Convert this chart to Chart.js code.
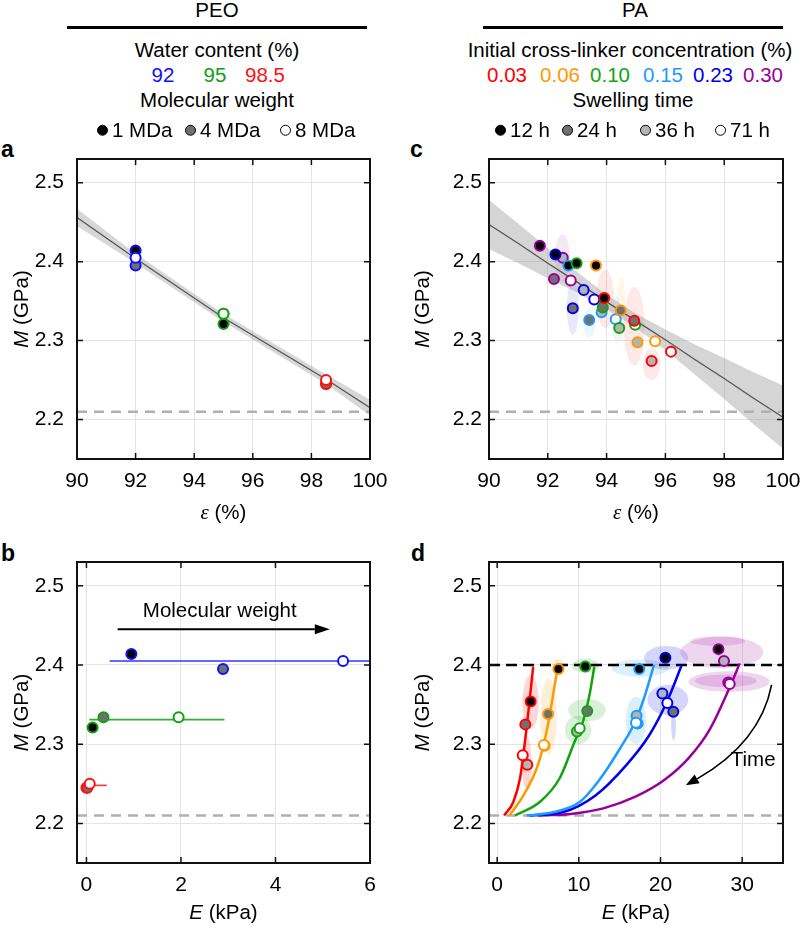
<!DOCTYPE html>
<html>
<head>
<meta charset="utf-8">
<script src="https://cdn.jsdelivr.net/npm/chart.js@4.4.0/dist/chart.umd.min.js"></script>
<style>
  body { margin: 0; width: 800px; height: 925px; overflow: hidden; background: #fff; position: relative;
         font-family: "Liberation Sans", Arial, sans-serif; color: #000; }
  .t { position: absolute; transform: translate(-50%, -50%); white-space: nowrap; font-size: 20.5px; line-height: 1; }
  .rule { position: absolute; height: 3px; background: #000; }
  .lab { position: absolute; font-weight: bold; font-size: 23px; line-height: 1; }
  .key { position: absolute; display: flex; align-items: center; transform: translateY(-50%); font-size: 20.5px; line-height: 1; white-space: nowrap; }
  .dot { width: 9px; height: 9px; border: 1px solid #000; border-radius: 50%; margin-right: 4px; }
  canvas { position: absolute; }
</style>
</head>
<body>

<div class="t" style="left:217px;top:10px">PEO</div>
<div class="rule" style="left:67px;top:26px;width:300px"></div>
<div class="t" style="left:217px;top:50px">Water content (%)</div>
<div class="t" style="left:217px;top:100px">Molecular weight</div>

<div class="t" style="left:635px;top:10px">PA</div>
<div class="rule" style="left:483px;top:26px;width:300px"></div>
<div class="t" style="left:630px;top:50px">Initial cross-linker concentration (%)</div>
<div class="t" style="left:633px;top:100px">Swelling time</div>

<div class="lab" style="left:1px;top:138px">a</div>
<div class="lab" style="left:410px;top:138px">c</div>
<div class="lab" style="left:1px;top:542px">b</div>
<div class="lab" style="left:411px;top:542px">d</div>

<canvas id="chartA"></canvas>
<canvas id="chartB"></canvas>
<canvas id="chartC"></canvas>
<canvas id="chartD"></canvas>

<script>
// ---- axis ticks ----
const yTicks = [2.2, 2.3, 2.4, 2.5];
const epsTicks = [90, 92, 94, 96, 98, 100];
const ePeoTicks = [0, 2, 4, 6];
const ePaTicks = [0, 10, 20, 30];
const baseM = 2.21;     // grey dashed reference
const plateauM = 2.4;   // black dashed line in d

// ---- PEO (panels a, b) : 1 / 4 / 8 MDa ----
const mwLabels = ['1 MDa', '4 MDa', '8 MDa'];
const mwFills = ['#000000', '#707070', '#ffffff'];
const peoWater = [92, 95, 98.5];
const peoColors = ['#1010ff', '#10a010', '#ff1010'];
const peoM92 = [2.414, 2.395, 2.405];
const peoM95 = [2.321, 2.334, 2.334];
const peoM985 = [2.245, 2.245, 2.250];
const peoE92 = [0.95, 2.89, 5.43];
const peoE95 = [0.13, 0.36, 1.95];
const peoE985 = [0.0, 0.02, 0.07];
// horizontal lines in b
const peoLineM = [2.405, 2.331, 2.248];
const peoLineFrom = [0.49, 0.06, 0.0];
const peoLineTo = [6.0, 2.92, 0.43];

// fit and confidence band in a
const fitAEps = [90, 92, 95, 98.5, 100];
const fitAM = [2.456, 2.404, 2.329, 2.251, 2.215];
const fitAHi = [2.467, 2.410, 2.334, 2.257, 2.225];
const fitALo = [2.445, 2.398, 2.324, 2.245, 2.205];

// ---- PA (panels c, d) : 12 / 24 / 36 / 71 h ----
const timeLabels = ['12 h', '24 h', '36 h', '71 h'];
const timeFills = ['#000000', '#707070', '#b4b4b4', '#ffffff'];
const paConc = ['0.03', '0.06', '0.10', '0.15', '0.23', '0.30'];
const paColors = ['#ff0000', '#ff9900', '#10a510', '#1e9bff', '#0000ee', '#990099'];

const paEps003 = [93.92, 94.94, 95.53, 96.19];
const paM003 = [2.354, 2.325, 2.274, 2.286];
const paE003 = [4.1, 3.45, 3.69, 3.13];
const paEps006 = [93.64, 94.48, 95.05, 95.65];
const paM006 = [2.395, 2.338, 2.298, 2.299];
const paE006 = [7.5, 6.24, 5.8, 5.72];
const paEps010 = [92.98, 93.87, 94.43, 94.97];
const paM010 = [2.398, 2.342, 2.316, 2.320];
const paE010 = [10.79, 11.03, 9.77, 10.1];
const paEps015 = [92.70, 93.41, 93.83, 94.31];
const paM015 = [2.395, 2.326, 2.336, 2.327];
const paE015 = [17.4, 17.2, 17.07, 17.0];
const paEps023 = [92.26, 92.85, 93.22, 93.58];
const paM023 = [2.409, 2.341, 2.364, 2.352];
const paE023 = [20.6, 21.57, 20.23, 20.84];
const paEps030 = [91.73, 92.21, 92.51, 92.78];
const paM030 = [2.420, 2.378, 2.405, 2.376];
const paE030 = [27.1, 28.3, 27.77, 28.47];

// fit and confidence band in c
const fitCEps = [90, 91, 92, 93, 94, 95, 96, 97, 98, 99, 100];
const fitCM = [2.447, 2.423, 2.398, 2.374, 2.349, 2.325, 2.301, 2.276, 2.252, 2.227, 2.203];
const fitCHi = [2.478, 2.448, 2.417, 2.387, 2.358, 2.334, 2.314, 2.295, 2.278, 2.260, 2.243];
const fitCLo = [2.416, 2.398, 2.379, 2.361, 2.340, 2.316, 2.288, 2.257, 2.226, 2.194, 2.163];

// model curves in d
const curve003E = [0.85, 1.98, 2.8, 3.2, 3.6, 4.0, 4.41];
const curve003M = [2.21, 2.227, 2.257, 2.286, 2.32, 2.358, 2.398];
const curve006E = [1.5, 3.2, 4.82, 5.71, 6.44, 7.05, 7.45];
const curve006M = [2.21, 2.235, 2.269, 2.30, 2.337, 2.375, 2.398];
const curve010E = [2.19, 5.22, 7.65, 9.48, 10.49, 11.3, 11.9];
const curve010M = [2.21, 2.227, 2.257, 2.303, 2.328, 2.362, 2.398];
const curve015E = [3.6, 6.84, 10.1, 12.3, 14.95, 16.97, 17.98, 19.2];
const curve015M = [2.21, 2.214, 2.227, 2.252, 2.293, 2.330, 2.358, 2.40];
const curve023E = [4.0, 8.0, 12.0, 15.76, 18.6, 20.8, 22.6];
const curve023M = [2.21, 2.214, 2.235, 2.273, 2.311, 2.354, 2.40];
const curve030E = [5.0, 9.0, 13.0, 17.0, 20.5, 23.5, 26.0, 28.4, 29.7];
const curve030M = [2.21, 2.212, 2.219, 2.234, 2.255, 2.283, 2.318, 2.37, 2.402];

// error ellipses: [x, M, half-width x, half-height M, colour index]
const ellipsesC = [
  [92.5, 2.405, 0.25, 0.03, 5], [92.85, 2.342, 0.2, 0.035, 4], [93.41, 2.322, 0.2, 0.018, 3],
  [93.95, 2.353, 0.3, 0.037, 0], [94.34, 2.326, 0.15, 0.03, 3], [94.5, 2.339, 0.15, 0.042, 1],
  [94.94, 2.318, 0.35, 0.05, 0], [95.53, 2.27, 0.3, 0.02, 0]
];
const ellipsesD = [
  [4.1, 2.353, 1.0, 0.034, 0], [3.6, 2.277, 0.6, 0.033, 0],
  [6.3, 2.335, 1.0, 0.048, 1], [7.5, 2.398, 0.8, 0.01, 1],
  [11.0, 2.343, 2.3, 0.014, 2], [9.9, 2.318, 1.6, 0.018, 2], [10.8, 2.399, 1.7, 0.009, 2],
  [17.5, 2.396, 3.5, 0.011, 3], [17.0, 2.33, 1.25, 0.03, 3],
  [20.7, 2.409, 2.7, 0.015, 4], [20.9, 2.356, 2.5, 0.019, 4], [21.6, 2.325, 0.3, 0.02, 4],
  [27.5, 2.416, 5.1, 0.02, 5], [27.0, 2.43, 3.4, 0.006, 5], [28.4, 2.379, 5.0, 0.013, 5], [28.0, 2.38, 3.8, 0.008, 5]
];

const SANS = '"Liberation Sans", Arial, sans-serif';
Chart.defaults.font.family = SANS;
Chart.defaults.color = '#000';

// header legend rows (colored numbers + marker keys)
function addText(txt, left, top, color) {
  const d = document.createElement('div');
  d.className = 't';
  d.style.left = left + 'px'; d.style.top = top + 'px'; d.style.color = color;
  d.textContent = txt;
  document.body.appendChild(d);
}
function addKey(txt, left, top, fill) {
  const d = document.createElement('div');
  d.className = 'key';
  d.style.left = left + 'px'; d.style.top = top + 'px';
  d.innerHTML = '<span class="dot" style="background:' + fill + '"></span>' + txt;
  document.body.appendChild(d);
}
const peoNumX = [163, 215, 265];
peoWater.forEach((w, i) => addText(String(w), peoNumX[i], 75, peoColors[i]));
const paNumX = [507, 560, 610, 663, 713, 763];
paConc.forEach((c, i) => addText(c, paNumX[i], 75, paColors[i]));
const mwKeyX = [97, 185, 280];
mwLabels.forEach((l, i) => addKey(l, mwKeyX[i], 130, mwFills[i]));
const timeKeyX = [495, 562, 640, 715];
timeLabels.forEach((l, i) => addKey(l, timeKeyX[i], 130, timeFills[i]));

function rgba(hex, a) {
  const n = parseInt(hex.slice(1), 16);
  return 'rgba(' + (n >> 16) + ',' + ((n >> 8) & 255) + ',' + (n & 255) + ',' + a + ')';
}
function pts(xs, ys) { return xs.map((v, i) => ({ x: v, y: ys[i] })); }

// ---- plugins ----
const frame = {
  id: 'frame',
  afterDatasetsDraw(chart) {
    const { ctx, chartArea: a, scales: { x, y } } = chart;
    ctx.save();
    ctx.strokeStyle = '#111';
    ctx.lineWidth = 1.5;
    ctx.beginPath();
    x.ticks.forEach(t => {
      const p = x.getPixelForValue(t.value);
      if (p > a.left + 2 && p < a.right - 2) {
        ctx.moveTo(p, a.top); ctx.lineTo(p, a.top + 6);
        ctx.moveTo(p, a.bottom); ctx.lineTo(p, a.bottom - 6);
      }
    });
    y.ticks.forEach(t => {
      const p = y.getPixelForValue(t.value);
      ctx.moveTo(a.left, p); ctx.lineTo(a.left + 6, p);
      ctx.moveTo(a.right, p); ctx.lineTo(a.right - 6, p);
    });
    ctx.stroke();
    ctx.lineWidth = 2;
    ctx.strokeRect(a.left, a.top, a.right - a.left, a.bottom - a.top);
    ctx.restore();
  }
};

const ellipses = {
  id: 'ellipses',
  beforeDatasetsDraw(chart, args, opts) {
    if (!opts.items) return;
    const { ctx, chartArea: a, scales: { x, y } } = chart;
    ctx.save();
    ctx.beginPath(); ctx.rect(a.left, a.top, a.right - a.left, a.bottom - a.top); ctx.clip();
    opts.items.forEach(e => {
      const cx = x.getPixelForValue(e[0]), cy = y.getPixelForValue(e[1]);
      const rx = Math.abs(x.getPixelForValue(e[0] + e[2]) - cx);
      const ry = Math.abs(y.getPixelForValue(e[1] + e[3]) - cy);
      ctx.fillStyle = rgba(paColors[e[4]], opts.alpha);
      ctx.beginPath(); ctx.ellipse(cx, cy, rx, ry, 0, 0, Math.PI * 2); ctx.fill();
    });
    ctx.restore();
  }
};

const notes = {
  id: 'notes',
  afterDatasetsDraw(chart, args, opts) {
    const { ctx, scales: { x, y } } = chart;
    ctx.save();
    (opts.texts || []).forEach(t => {
      ctx.font = '20.5px ' + SANS;
      ctx.fillStyle = '#000'; ctx.textAlign = 'center'; ctx.textBaseline = 'middle';
      ctx.fillText(t.text, x.getPixelForValue(t.x), y.getPixelForValue(t.y));
    });
    (opts.arrows || []).forEach(ar => {
      const p = ar.pts.map(q => [x.getPixelForValue(q[0]), y.getPixelForValue(q[1])]);
      const s = p[0], e = p[p.length - 1];
      // control point so the curve passes through the middle point
      const c = p.length === 3
        ? [2 * p[1][0] - (s[0] + e[0]) / 2, 2 * p[1][1] - (s[1] + e[1]) / 2]
        : [(s[0] + e[0]) / 2, (s[1] + e[1]) / 2];
      let dx = e[0] - c[0], dy = e[1] - c[1];
      const L = Math.hypot(dx, dy); dx /= L; dy /= L;
      const bx = e[0] - dx * ar.head, by = e[1] - dy * ar.head;
      ctx.strokeStyle = '#000'; ctx.lineWidth = ar.width;
      ctx.beginPath(); ctx.moveTo(s[0], s[1]);
      ctx.quadraticCurveTo(c[0], c[1], bx, by);
      ctx.stroke();
      ctx.fillStyle = '#000';
      ctx.beginPath();
      ctx.moveTo(e[0], e[1]);
      ctx.lineTo(bx - dy * ar.wing, by + dx * ar.wing);
      ctx.lineTo(bx + dy * ar.wing, by - dx * ar.wing);
      ctx.closePath(); ctx.fill();
    });
    ctx.restore();
  }
};

function drawRich(ctx, parts, cx, cy, rot) {
  ctx.save();
  ctx.translate(cx, cy); ctx.rotate(rot);
  ctx.textBaseline = 'middle'; ctx.textAlign = 'left'; ctx.fillStyle = '#000';
  let w = 0;
  parts.forEach(p => { ctx.font = p[1]; w += ctx.measureText(p[0]).width; });
  let x0 = -w / 2;
  parts.forEach(p => { ctx.font = p[1]; ctx.fillText(p[0], x0, 0); x0 += ctx.measureText(p[0]).width; });
  ctx.restore();
}
const axisTitles = {
  id: 'axisTitles',
  afterDraw(chart, args, o) {
    const { ctx, chartArea: a } = chart;
    drawRich(ctx, o.x, (a.left + a.right) / 2, a.bottom + o.xOff, 0);
    drawRich(ctx, o.y, a.left - o.yOff, (a.top + a.bottom) / 2, -Math.PI / 2);
  }
};

const REG = '20.5px ' + SANS, ITA = 'italic 20.5px ' + SANS;
const titleEps = [['\u03b5', 'italic 21px "Liberation Serif", "DejaVu Serif", serif'], [' (%)', REG]];
const titleE = [['E', ITA], [' (kPa)', REG]];
const titleM = [['M', ITA], [' (GPa)', REG]];

function makeChart(id, box, xMin, xMax, xTicks, datasets, extra) {
  const cv = document.getElementById(id);
  cv.width = 77 + box.w + box.padR;
  cv.height = 19 + box.h + box.axisH;
  cv.style.left = (box.left - 77) + 'px';
  cv.style.top = (box.top - 19) + 'px';
  return new Chart(cv, {
    type: 'scatter',
    data: { datasets },
    options: {
      responsive: false,
      animation: false,
      devicePixelRatio: 1,
      layout: { padding: { top: 19, right: box.padR, left: 0, bottom: 0 } },
      plugins: Object.assign({
        legend: { display: false },
        tooltip: { enabled: false },
        axisTitles: { x: box.xTitle, y: titleM, xOff: box.xOff, yOff: box.yOff }
      }, extra),
      scales: {
        x: {
          type: 'linear', min: xMin, max: xMax,
          afterBuildTicks: s => { s.ticks = xTicks.map(v => ({ value: v })); },
          afterFit: s => { s.height = box.axisH; s.paddingLeft = 0; s.paddingRight = 0; },
          grid: { color: '#e4e4e4', drawTicks: false },
          border: { display: false },
          ticks: { padding: 10, font: { size: 21 }, color: '#000', callback: v => String(v) }
        },
        y: {
          type: 'linear', min: 2.15, max: 2.53,
          afterBuildTicks: s => { s.ticks = yTicks.map(v => ({ value: v })); },
          afterFit: s => { s.width = 77; s.paddingTop = 0; s.paddingBottom = 0; },
          grid: { color: '#e4e4e4', drawTicks: false },
          border: { display: false },
          ticks: { padding: box.tickPad, font: { size: 21 }, color: '#000', callback: v => v.toFixed(1) }
        }
      }
    },
    plugins: [ellipses, frame, notes, axisTitles]
  });
}

function pointSet(data, color, fills) {
  return { data, borderColor: color, backgroundColor: fills, borderWidth: 2,
           pointRadius: 5, pointHoverRadius: 5, showLine: false, order: 0 };
}
function lineSet(data, color, width, order, dash) {
  return { data, borderColor: color, borderWidth: width, pointRadius: 0, pointHoverRadius: 0,
           showLine: true, fill: false, order, borderDash: dash || [] };
}
function bandSets(xs, hi, lo, color) {
  return [
    { data: pts(xs, hi), borderWidth: 0, pointRadius: 0, showLine: true, fill: '+1', backgroundColor: color, order: 9 },
    { data: pts(xs, lo), borderWidth: 0, pointRadius: 0, showLine: true, fill: false, order: 8 }
  ];
}
function baseLine(x0, x1) {
  return lineSet([{ x: x0, y: baseM }, { x: x1, y: baseM }], '#b0b0b0', 2.5, 5, [10, 7]);
}

// ---- panel a ----
const peoM = [peoM92, peoM95, peoM985];
const peoE = [peoE92, peoE95, peoE985];
const dsA = [].concat(
  bandSets(fitAEps, fitAHi, fitALo, 'rgba(150,150,150,0.38)'),
  [lineSet(pts(fitAEps, fitAM), '#555', 1.3, 4), baseLine(90, 100)],
  peoWater.map((w, g) => pointSet(peoM[g].map(m => ({ x: w, y: m })), peoColors[g], mwFills))
);
makeChart('chartA', { left: 77, top: 159, w: 293, h: 300, axisH: 72, padR: 20, tickPad: 13,
  xTitle: titleEps, xOff: 54, yOff: 55 }, 90, 100, epsTicks, dsA, {});

// ---- panel b ----
const dsB = [].concat(
  [baseLine(-0.2, 6)],
  peoWater.map((w, g) => lineSet([{ x: peoLineFrom[g], y: peoLineM[g] }, { x: peoLineTo[g], y: peoLineM[g] }],
    rgba(peoColors[g], 0.85), 1.6, 3)),
  peoWater.map((w, g) => pointSet(pts(peoE[g], peoM[g]), peoColors[g], mwFills))
);
makeChart('chartB', { left: 77, top: 562, w: 293, h: 301, axisH: 62, padR: 20, tickPad: 13,
  xTitle: titleE, xOff: 50, yOff: 55 }, -0.2, 6, ePeoTicks, dsB, {
  notes: {
    texts: [{ x: 2.82, y: 2.468, text: 'Molecular weight' }],
    arrows: [{ pts: [[0.66, 2.445], [5.15, 2.445]], width: 2, head: 15, wing: 5 }]
  }
});

// ---- panel c ----
const paEps = [paEps003, paEps006, paEps010, paEps015, paEps023, paEps030];
const paM = [paM003, paM006, paM010, paM015, paM023, paM030];
const paE = [paE003, paE006, paE010, paE015, paE023, paE030];
const dsC = [].concat(
  bandSets(fitCEps, fitCHi, fitCLo, 'rgba(150,150,150,0.4)'),
  [lineSet(pts(fitCEps, fitCM), '#555', 1.3, 4), baseLine(90, 100)],
  paConc.map((c, g) => pointSet(pts(paEps[g], paM[g]), paColors[g], timeFills))
);
makeChart('chartC', { left: 489, top: 159, w: 294, h: 300, axisH: 72, padR: 17, tickPad: 7,
  xTitle: titleEps, xOff: 54, yOff: 66 }, 90, 100, epsTicks, dsC, {
  ellipses: { items: ellipsesC, alpha: 0.09 }
});

// ---- panel d ----
const curveE = [curve003E, curve006E, curve010E, curve015E, curve023E, curve030E];
const curveM = [curve003M, curve006M, curve010M, curve015M, curve023M, curve030M];
const dsD = [].concat(
  [baseLine(-1, 35), lineSet([{ x: -1, y: plateauM }, { x: 35, y: plateauM }], '#000', 2.5, 5, [11, 6])],
  paConc.map((c, g) => Object.assign(lineSet(pts(curveE[g], curveM[g]), paColors[g], 2.5, 2),
    { cubicInterpolationMode: 'monotone' })),
  paConc.map((c, g) => pointSet(pts(paE[g], paM[g]), paColors[g], timeFills))
);
makeChart('chartD', { left: 489, top: 562, w: 294, h: 301, axisH: 62, padR: 17, tickPad: 7,
  xTitle: titleE, xOff: 50, yOff: 66 }, -1, 35, ePaTicks, dsD, {
  ellipses: { items: ellipsesD, alpha: 0.16 },
  notes: {
    texts: [{ x: 31.35, y: 2.28, text: 'Time' }],
    arrows: [{ pts: [[33.6, 2.375], [30.3, 2.307], [23.1, 2.248]], width: 1.6, head: 13, wing: 5 }]
  }
});
</script>
</body>
</html>
